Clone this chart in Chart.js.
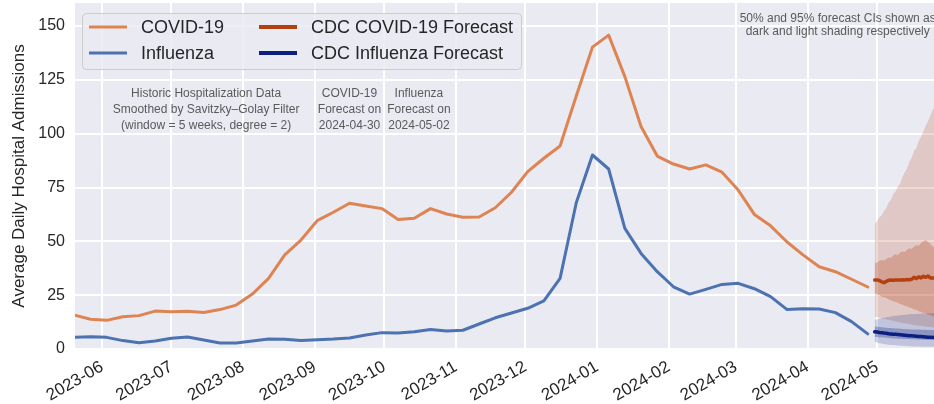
<!DOCTYPE html>
<html>
<head>
<meta charset="utf-8">
<script src="https://cdn.jsdelivr.net/npm/chart.js@4.4.1/dist/chart.umd.min.js"></script>
<style>
  html, body { margin: 0; padding: 0; background: #fff; }
  #wrap { width: 934px; height: 404px; }
</style>
</head>
<body>
<div id="wrap"><canvas id="hospChart"></canvas></div>
<script>
// ----------------------
// weekly history (smoothed)
// ----------------------
const weeks = ['2023-05-20', '2023-05-27', '2023-06-03', '2023-06-10', '2023-06-17', '2023-06-24',
    '2023-07-01', '2023-07-08', '2023-07-15', '2023-07-22', '2023-07-29', '2023-08-05', '2023-08-12',
    '2023-08-19', '2023-08-26', '2023-09-02', '2023-09-09', '2023-09-16', '2023-09-23', '2023-09-30',
    '2023-10-07', '2023-10-14', '2023-10-21', '2023-10-28', '2023-11-04', '2023-11-11', '2023-11-18',
    '2023-11-25', '2023-12-02', '2023-12-09', '2023-12-16', '2023-12-23', '2023-12-30', '2024-01-06',
    '2024-01-13', '2024-01-20', '2024-01-27', '2024-02-03', '2024-02-10', '2024-02-17', '2024-02-24',
    '2024-03-02', '2024-03-09', '2024-03-16', '2024-03-23', '2024-03-30', '2024-04-06', '2024-04-13',
    '2024-04-20', '2024-04-27'];

const covid = [15.8, 13.8, 13.3, 15.0, 15.5, 17.6, 17.3, 17.5, 17.0, 18.3, 20.4, 25.5, 32.8, 43.7,
    50.6, 59.6, 63.5, 67.7, 66.4, 65.2, 60.2, 60.7, 65.2, 62.7, 61.2, 61.3, 65.6, 72.8, 82.4, 88.6,
    94.3, 117.5, 140.2, 145.8, 126.5, 103.3, 89.6, 85.9, 83.6, 85.5, 82.1, 73.8, 62.5, 57.2, 49.8,
    43.7, 38.2, 35.9, 32.4, 28.8];

const flu = [5.4, 5.7, 5.4, 3.9, 2.9, 3.7, 5.0, 5.6, 4.2, 2.8, 2.8, 3.7, 4.6, 4.5, 4.0, 4.3, 4.6,
    5.1, 6.5, 7.6, 7.4, 8.0, 9.1, 8.4, 8.7, 11.6, 14.5, 16.7, 18.9, 22.3, 32.8, 67.9, 90.1, 83.6,
    56.0, 44.4, 35.9, 28.9, 25.5, 27.7, 30.0, 30.5, 28.0, 24.3, 18.4, 18.7, 18.6, 16.9, 12.7, 7.0];

// ----------------------
// daily CDC forecasts
// ----------------------
const fcDays = ['2024-04-30', '2024-05-01', '2024-05-02', '2024-05-03', '2024-05-04', '2024-05-05',
    '2024-05-06', '2024-05-07', '2024-05-08', '2024-05-09', '2024-05-10', '2024-05-11', '2024-05-12',
    '2024-05-13', '2024-05-14', '2024-05-15', '2024-05-16', '2024-05-17', '2024-05-18', '2024-05-19',
    '2024-05-20', '2024-05-21', '2024-05-22', '2024-05-23', '2024-05-24', '2024-05-25', '2024-05-26'];

const covidFc = [32.0, 32.1, 31.8, 31.2, 30.8, 31.4, 31.9, 32.0, 31.9, 32.1, 32.0, 32.0, 32.2, 32.1,
    32.3, 32.2, 32.4, 33.3, 32.7, 33.5, 33.0, 33.8, 33.3, 33.9, 33.1, 32.9, 33.2];
const covid50Hi = [39.8, 40.2, 40.9, 41.3, 41.0, 41.8, 42.5, 42.3, 43.4, 44.0, 43.7, 44.8, 45.3, 45.0,
    46.1, 46.8, 46.4, 47.5, 48.3, 48.0, 49.2, 50.1, 50.6, 49.8, 48.9, 47.6, 47.2];
const covid50Lo = [25.9, 25.5, 25.1, 24.3, 24.0, 23.7, 23.0, 22.8, 22.1, 21.9, 21.5, 20.9, 20.7, 20.0,
    19.9, 19.2, 19.0, 18.4, 18.2, 17.5, 17.3, 16.7, 16.6, 16.0, 15.8, 15.2, 15.0];
const covid95Hi = [58.0, 59.5, 61.2, 62.0, 64.1, 65.4, 67.9, 69.3, 71.9, 73.1, 75.5, 76.8, 79.9, 82.1,
    84.0, 87.0, 88.8, 91.9, 93.4, 96.5, 98.5, 100.9, 103.4, 105.7, 108.2, 111.0, 112.5];
const covid95Lo = [15.0, 14.7, 14.6, 14.2, 14.1, 13.7, 13.6, 13.2, 13.1, 12.7, 12.7, 12.3, 12.2, 11.9,
    11.9, 11.5, 11.4, 11.1, 11.0, 10.8, 10.8, 10.5, 10.4, 10.2, 10.2, 10.0, 9.9];

const fluFc = [8.0, 7.9, 7.7, 7.6, 7.4, 7.3, 7.1, 7.0, 6.9, 6.8, 6.7, 6.6, 6.5, 6.4, 6.3, 6.2, 6.1,
    6.0, 5.9, 5.8, 5.8, 5.7, 5.6, 5.5, 5.5, 5.4, 5.3];
const flu50Hi = [10.4, 10.3, 10.2, 10.1, 10.0, 9.9, 9.8, 9.7, 9.6, 9.5, 9.5, 9.4, 9.3, 9.3, 9.2, 9.2,
    9.1, 9.1, 9.0, 9.0, 8.9, 8.9, 8.9, 8.8, 8.8, 8.8, 8.8];
const flu50Lo = [5.7, 5.6, 5.5, 5.4, 5.3, 5.2, 5.1, 5.0, 4.9, 4.9, 4.8, 4.8, 4.7, 4.7, 4.6, 4.6, 4.5,
    4.5, 4.4, 4.4, 4.4, 4.3, 4.3, 4.3, 4.2, 4.2, 4.2];
const flu95Hi = [13.5, 13.8, 14.0, 14.3, 14.5, 14.7, 14.9, 15.1, 15.3, 15.4, 15.6, 15.7, 15.8, 15.9,
    16.0, 16.1, 16.2, 16.3, 16.3, 16.4, 16.4, 16.5, 16.5, 16.6, 16.6, 16.6, 16.7];
const flu95Lo = [3.4, 3.0, 2.7, 2.5, 2.3, 2.1, 2.0, 1.9, 1.8, 1.7, 1.6, 1.5, 1.5, 1.4, 1.4, 1.3, 1.3,
    1.2, 1.2, 1.2, 1.1, 1.1, 1.1, 1.0, 1.0, 1.0, 1.0];

// axis ticks
const monthTicks = ['2023-06', '2023-07', '2023-08', '2023-09', '2023-10', '2023-11', '2023-12',
    '2024-01', '2024-02', '2024-03', '2024-04', '2024-05'];
const yTicks = [0, 25, 50, 75, 100, 125, 150];
const xRange = ['2023-05-20T08:00', '2024-05-25T15:00'];
const yRange = [0, 160.7];

// colours
const COVID = '#dd8452';
const FLU = '#4c72b0';
const COVID_FC = '#b5400f';
const FLU_FC = '#0a1f80';
const FONT = "'Liberation Sans', Arial, sans-serif";
const TXT = '#262626';

// text notes (anchored in data coords)
const notes = [
    { at: '2023-07-16', y: 118.5, size: 12, lines: ['Historic Hospitalization Data', 'Smoothed by Savitzky\u2013Golay Filter', '(window = 5 weeks, degree = 2)'] },
    { at: '2023-09-16', y: 118.5, size: 12, lines: ['COVID-19', 'Forecast on', '2024-04-30'] },
    { at: '2023-10-16', y: 118.5, size: 12, lines: ['Influenza', 'Forecast on', '2024-05-02'] },
    { at: '2024-04-14', y: 153.6, size: 12, gap: 13.5, lines: ['50% and 95% forecast CIs shown as', 'dark and light shading respectively'] }
];

const legendItems = [
    { label: 'COVID-19', color: COVID, lw: 3, col: 0, row: 0 },
    { label: 'Influenza', color: FLU, lw: 3, col: 0, row: 1 },
    { label: 'CDC COVID-19 Forecast', color: COVID_FC, lw: 4, col: 1, row: 0 },
    { label: 'CDC Influenza Forecast', color: FLU_FC, lw: 4, col: 1, row: 1 }
];

// ----------------------
const ts = s => new Date(s + (s.length <= 10 ? 'T00:00:00Z' : ':00Z')).getTime();
const pts = (dates, vals) => vals.map((v, i) => ({ x: ts(dates[i]), y: v }));

function band(dates, vals, color, fill, order) {
    return {
        data: pts(dates, vals), borderWidth: 0, pointRadius: 0,
        fill: fill ? '+1' : false, backgroundColor: color, order: order
    };
}
function line(dates, vals, color, width, order) {
    return {
        data: pts(dates, vals), borderColor: color, borderWidth: width, pointRadius: 0,
        fill: false, order: order, borderJoinStyle: 'round', borderCapStyle: 'round'
    };
}

const decor = {
    id: 'decor',
    beforeDraw(chart) {
        const { ctx, chartArea: a } = chart;
        ctx.save();
        ctx.fillStyle = '#ffffff';
        ctx.fillRect(0, 0, chart.width, chart.height);
        ctx.fillStyle = '#eaeaf2';
        ctx.fillRect(a.left, a.top, a.right - a.left, a.bottom - a.top);
        ctx.restore();
    },
    afterDraw(chart) {
        const { ctx, chartArea: a, scales } = chart;
        ctx.save();
        // notes
        ctx.fillStyle = '#5a5a5a';
        ctx.textAlign = 'center';
        ctx.textBaseline = 'middle';
        notes.forEach(n => {
            ctx.font = n.size + 'px ' + FONT;
            const x = scales.x.getPixelForValue(ts(n.at));
            const y = scales.y.getPixelForValue(n.y);
            n.lines.forEach((t, i) => ctx.fillText(t, x, y + i * (n.gap || 16)));
        });
        // legend box
        const lx = a.left + 7.5, ly = a.top + 10.5, lw = 439, lh = 56;
        ctx.beginPath();
        ctx.roundRect(lx, ly, lw, lh, 4);
        ctx.fillStyle = 'rgba(234,234,242,0.8)';
        ctx.fill();
        ctx.strokeStyle = '#cccccc';
        ctx.lineWidth = 1;
        ctx.stroke();
        ctx.font = '18px ' + FONT;
        ctx.textAlign = 'left';
        legendItems.forEach(it => {
            const hx = lx + 6.5 + it.col * 170;
            const hy = ly + 13.5 + it.row * 26;
            ctx.beginPath();
            ctx.moveTo(hx, hy);
            ctx.lineTo(hx + 38, hy);
            ctx.strokeStyle = it.color;
            ctx.lineWidth = it.lw;
            ctx.stroke();
            ctx.fillStyle = TXT;
            ctx.fillText(it.label, hx + 52, hy + 1);
        });
        ctx.restore();
    }
};

const ctx = document.getElementById('hospChart').getContext('2d');
const hospChart = new Chart(ctx, {
    type: 'line',
    data: {
        datasets: [
            line(weeks, covid, COVID, 3, 0),
            line(weeks, flu, FLU, 3, 0),
            line(fcDays, covidFc, COVID_FC, 3.5, 1),
            line(fcDays, fluFc, FLU_FC, 3.5, 1),
            band(fcDays, flu50Hi, 'rgba(10,30,130,0.28)', true, 2),
            band(fcDays, flu50Lo, 'rgba(0,0,0,0)', false, 2),
            band(fcDays, flu95Hi, 'rgba(10,30,130,0.18)', true, 3),
            band(fcDays, flu95Lo, 'rgba(0,0,0,0)', false, 3),
            band(fcDays, covid50Hi, 'rgba(180,65,20,0.28)', true, 4),
            band(fcDays, covid50Lo, 'rgba(0,0,0,0)', false, 4),
            band(fcDays, covid95Hi, 'rgba(180,65,20,0.2)', true, 5),
            band(fcDays, covid95Lo, 'rgba(0,0,0,0)', false, 5)
        ]
    },
    options: {
        responsive: true,
        maintainAspectRatio: false,
        animation: false,
        layout: { padding: { top: 3, right: 0, left: 0, bottom: 0 } },
        plugins: {
            legend: { display: false },
            tooltip: { enabled: false },
            title: { display: false }
        },
        scales: {
            x: {
                type: 'linear',
                min: ts(xRange[0]),
                max: ts(xRange[1]),
                grid: { color: '#ffffff', lineWidth: 2, drawTicks: false },
                border: { display: false },
                afterBuildTicks: s => { s.ticks = monthTicks.map(m => ({ value: ts(m + '-01') })); },
                afterFit: s => { s.height = 55; s.paddingLeft = 0; s.paddingRight = 0; },
                ticks: {
                    autoSkip: false,
                    minRotation: 30,
                    maxRotation: 30,
                    padding: 8,
                    color: TXT,
                    font: { family: FONT, size: 17 },
                    callback: (v, i) => monthTicks[i]
                }
            },
            y: {
                min: yRange[0],
                max: yRange[1],
                grid: { color: '#ffffff', lineWidth: 2, drawTicks: false },
                border: { display: false },
                afterBuildTicks: s => { s.ticks = yTicks.map(v => ({ value: v })); },
                afterFit: s => { s.width = 75; s.paddingTop = 0; s.paddingBottom = 0; },
                ticks: {
                    padding: 10,
                    color: TXT,
                    font: { family: FONT, size: 16 }
                },
                title: {
                    display: true,
                    text: 'Average Daily Hospital Admissions',
                    color: TXT,
                    font: { family: FONT, size: 17 },
                    padding: { top: 9, bottom: 0 }
                }
            }
        }
    },
    plugins: [decor]
});
</script>
</body>
</html>
